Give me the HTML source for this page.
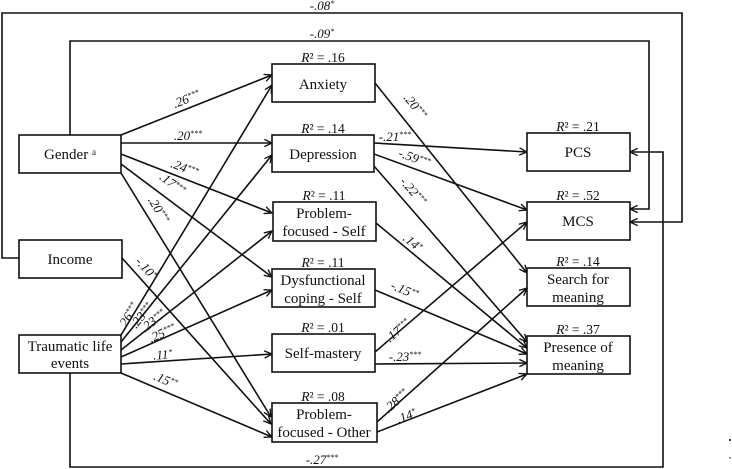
<!DOCTYPE html>
<html><head><meta charset="utf-8"><style>
html,body{margin:0;padding:0;background:#fff;}
svg{display:block;}
text{font-family:"Liberation Serif","DejaVu Serif",serif;fill:#111;}
.bx{font-size:15px;text-anchor:middle;}
.r2{font-size:13.5px;text-anchor:middle;}
.lb{font-size:13px;font-style:italic;text-anchor:middle;}
.sp{font-size:8px;}
</style></head><body>
<svg width="732" height="469" viewBox="0 0 732 469" xmlns="http://www.w3.org/2000/svg">
<defs><marker id="a" viewBox="0 0 10 10" refX="9.5" refY="5" markerWidth="9" markerHeight="9" markerUnits="userSpaceOnUse" orient="auto"><path d="M1,1 L9.5,5 L1,9" fill="none" stroke="#111" stroke-width="1.5"/></marker></defs>
<g stroke="#111" stroke-width="1.6" fill="none">
<polyline points="19,258 2,258 2,13 682,13 682,222 630,222" marker-end="url(#a)"/>
<polyline points="70,135 70,41 649,41 649,209 630,209" marker-end="url(#a)"/>
<polyline points="70,373 70,467 663,467 663,152 630,152" marker-end="url(#a)"/>
<rect x="19" y="135" width="102" height="38" fill="#fff"/>
<rect x="19" y="240" width="103" height="38" fill="#fff"/>
<rect x="19" y="335" width="102" height="38" fill="#fff"/>
<rect x="272" y="64" width="103" height="38"/>
<rect x="272" y="135" width="102" height="37"/>
<rect x="273" y="202" width="103" height="39"/>
<rect x="272" y="269" width="103" height="38"/>
<rect x="272" y="334" width="103" height="38"/>
<rect x="272" y="403" width="105" height="39"/>
<rect x="527" y="133" width="103" height="38"/>
<rect x="527" y="202" width="103" height="38"/>
<rect x="527" y="268" width="103" height="38"/>
<rect x="527" y="336" width="103" height="38"/>
<g marker-end="url(#a)">
<line x1="121" y1="135" x2="272" y2="75"/>
<line x1="121" y1="143" x2="272" y2="143"/>
<line x1="121" y1="154" x2="272" y2="213"/>
<line x1="121" y1="164" x2="272" y2="277"/>
<line x1="121" y1="173" x2="271" y2="417"/>
<line x1="122" y1="258" x2="271" y2="424"/>
<line x1="121" y1="335" x2="272" y2="85"/>
<line x1="121" y1="342" x2="272" y2="155"/>
<line x1="121" y1="350" x2="272" y2="231"/>
<line x1="121" y1="357" x2="272" y2="290"/>
<line x1="121" y1="364" x2="272" y2="354"/>
<line x1="121" y1="373" x2="272" y2="437"/>
<line x1="375" y1="83" x2="527" y2="273"/>
<line x1="374" y1="143" x2="527" y2="152"/>
<line x1="374" y1="154" x2="527" y2="210"/>
<line x1="374" y1="166" x2="527" y2="342"/>
<line x1="376" y1="223" x2="527" y2="348"/>
<line x1="375" y1="290" x2="527" y2="354"/>
<line x1="375" y1="352" x2="527" y2="222"/>
<line x1="375" y1="364" x2="527" y2="363"/>
<line x1="377" y1="422" x2="527" y2="288"/>
<line x1="377" y1="432" x2="527" y2="374"/>
</g>
</g>
<text class="bx" x="70" y="159">Gender <tspan font-size="9" dy="-4">a</tspan></text>
<text class="bx" x="70" y="264">Income</text>
<text class="bx" x="70" y="351">Traumatic life</text>
<text class="bx" x="70" y="368">events</text>
<text class="bx" x="323" y="89">Anxiety</text>
<text class="bx" x="323" y="159">Depression</text>
<text class="bx" x="324" y="218">Problem-</text>
<text class="bx" x="324" y="236">focused - Self</text>
<text class="bx" x="323" y="285">Dysfunctional</text>
<text class="bx" x="323" y="303">coping - Self</text>
<text class="bx" x="323" y="358">Self-mastery</text>
<text class="bx" x="324" y="419">Problem-</text>
<text class="bx" x="324" y="437">focused - Other</text>
<text class="bx" x="578" y="157">PCS</text>
<text class="bx" x="578" y="226">MCS</text>
<text class="bx" x="578" y="284">Search for</text>
<text class="bx" x="578" y="302">meaning</text>
<text class="bx" x="578" y="352">Presence of</text>
<text class="bx" x="578" y="370">meaning</text>
<text class="r2" x="323" y="62"><tspan font-style="italic">R</tspan>² = .16</text>
<text class="r2" x="323" y="133"><tspan font-style="italic">R</tspan>² = .14</text>
<text class="r2" x="324" y="200"><tspan font-style="italic">R</tspan>² = .11</text>
<text class="r2" x="323" y="267"><tspan font-style="italic">R</tspan>² = .11</text>
<text class="r2" x="323" y="332"><tspan font-style="italic">R</tspan>² = .01</text>
<text class="r2" x="323" y="401"><tspan font-style="italic">R</tspan>² = .08</text>
<text class="r2" x="578" y="131"><tspan font-style="italic">R</tspan>² = .21</text>
<text class="r2" x="578" y="200"><tspan font-style="italic">R</tspan>² = .52</text>
<text class="r2" x="578" y="266"><tspan font-style="italic">R</tspan>² = .14</text>
<text class="r2" x="578" y="334"><tspan font-style="italic">R</tspan>² = .37</text>
<text class="lb" x="322" y="10">-.08<tspan class="sp" dy="-4">*</tspan></text>
<text class="lb" x="322" y="38">-.09<tspan class="sp" dy="-4">*</tspan></text>
<text class="lb" x="322" y="464">-.27<tspan class="sp" dy="-4">***</tspan></text>
<text class="lb" transform="translate(188,103) rotate(-21.7)">.26<tspan class="sp" dy="-4">***</tspan></text>
<text class="lb" x="188" y="140">.20<tspan class="sp" dy="-4">***</tspan></text>
<text class="lb" transform="translate(183,172) rotate(21.3)">.24<tspan class="sp" dy="-4">***</tspan></text>
<text class="lb" transform="translate(170,187) rotate(36.8)">.17<tspan class="sp" dy="-4">***</tspan></text>
<text class="lb" transform="translate(155,212) rotate(58.7)">.20<tspan class="sp" dy="-4">***</tspan></text>
<text class="lb" transform="translate(143,271) rotate(48)">-.10<tspan class="sp" dy="-4">*</tspan></text>
<text class="lb" transform="translate(132,318) rotate(-58.9)">.26<tspan class="sp" dy="-4">***</tspan></text>
<text class="lb" transform="translate(145,318) rotate(-51)">.23<tspan class="sp" dy="-4">***</tspan></text>
<text class="lb" transform="translate(156,324) rotate(-38)">.23<tspan class="sp" dy="-4">***</tspan></text>
<text class="lb" transform="translate(164,337) rotate(-24)">.25<tspan class="sp" dy="-4">***</tspan></text>
<text class="lb" transform="translate(163,359) rotate(-4)">.11<tspan class="sp" dy="-4">*</tspan></text>
<text class="lb" transform="translate(164,384) rotate(23)">.15<tspan class="sp" dy="-4">**</tspan></text>
<text class="lb" transform="translate(412,109) rotate(51)">.20<tspan class="sp" dy="-4">***</tspan></text>
<text class="lb" x="395" y="141">-.21<tspan class="sp" dy="-4">***</tspan></text>
<text class="lb" transform="translate(413,162) rotate(20)">-.59<tspan class="sp" dy="-4">***</tspan></text>
<text class="lb" transform="translate(410,194) rotate(49)">-.22<tspan class="sp" dy="-4">***</tspan></text>
<text class="lb" transform="translate(410,246) rotate(39.6)">.14<tspan class="sp" dy="-4">*</tspan></text>
<text class="lb" transform="translate(403,294) rotate(22.8)">-.15<tspan class="sp" dy="-4">**</tspan></text>
<text class="lb" transform="translate(399,335) rotate(-40.5)">-.17<tspan class="sp" dy="-4">***</tspan></text>
<text class="lb" x="405" y="361">-.23<tspan class="sp" dy="-4">***</tspan></text>
<text class="lb" transform="translate(399,404) rotate(-41.8)">.28<tspan class="sp" dy="-4">***</tspan></text>
<text class="lb" transform="translate(408,420) rotate(-21)">.14<tspan class="sp" dy="-4">*</tspan></text>
<rect x="729" y="439" width="2" height="2" fill="#444"/>
<rect x="729" y="457" width="2" height="1.5" fill="#888"/>
</svg>
</body></html>
